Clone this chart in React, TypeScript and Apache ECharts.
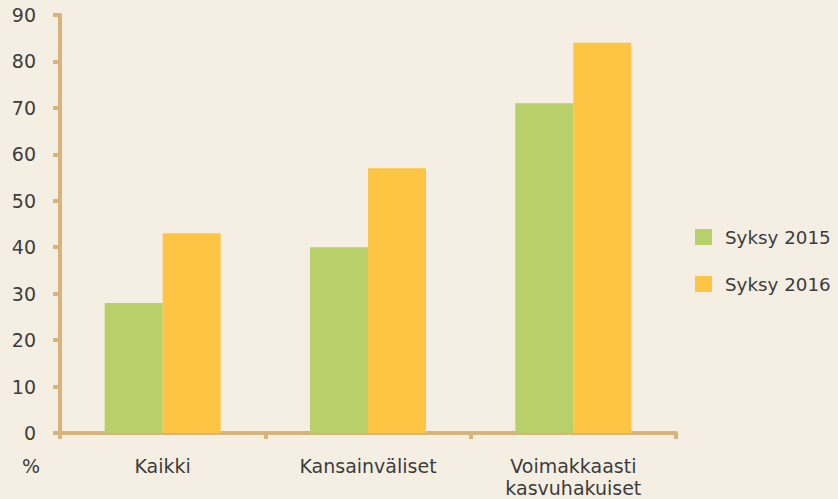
import React, { useEffect, useRef } from "react";
import * as echarts from "echarts";

const categories = ["Kaikki", "Kansainväliset", "Voimakkaasti\nkasvuhakuiset"];
const series2015 = [28, 40, 71];
const series2016 = [43, 57, 84];
const seriesNames = ["Syksy 2015", "Syksy 2016"];

const FONT = "'DejaVu Sans', sans-serif";
const AXIS = "#d8b47a";
const TEXT = "#3c3c3c";
const FW = "normal";

export default function App() {
  const ref = useRef<HTMLDivElement>(null);
  useEffect(() => {
    if (!ref.current) return;
    const chart = echarts.init(ref.current, null, { renderer: "svg" });
    chart.setOption({
      animation: false,
      backgroundColor: "#f5efe3",
      textStyle: { fontFamily: FONT },
      grid: { left: 60, right: 162, top: 15, bottom: 66, containLabel: false },
      legend: {
        orient: "vertical",
        left: 695,
        top: 228,
        padding: 0,
        itemWidth: 17,
        itemHeight: 16,
        itemGap: 29,
        icon: "rect",
        textStyle: {
          fontSize: 18.3,
          lineHeight: 16,
          color: TEXT,
          fontFamily: FONT,
          fontWeight: FW,
          padding: [0, 0, 0, 8],
        },
        data: seriesNames,
      },
      xAxis: {
        type: "category",
        data: categories,
        axisLine: { lineStyle: { color: AXIS, width: 4 } },
        axisTick: { show: true, length: 6, lineStyle: { color: AXIS, width: 4 } },
        axisLabel: {
          fontSize: 19,
          color: TEXT,
          margin: 22,
          lineHeight: 22,
          fontFamily: FONT,
          fontWeight: FW,
        },
      },
      yAxis: {
        type: "value",
        min: 0,
        max: 90,
        interval: 10,
        splitLine: { show: false },
        axisLine: { show: true, lineStyle: { color: AXIS, width: 4 } },
        axisTick: { show: true, length: 7, lineStyle: { color: AXIS, width: 4 } },
        axisLabel: { fontSize: 19, color: TEXT, margin: 24, fontFamily: FONT, fontWeight: FW },
      },
      graphic: [
        {
          type: "text",
          left: 22,
          top: 456,
          style: { text: "%", fontSize: 19, fill: TEXT, fontFamily: FONT, fontWeight: FW },
        },
      ],
      series: [
        {
          name: seriesNames[0],
          type: "bar",
          data: series2015,
          barWidth: 58,
          barGap: "0%",
          itemStyle: { color: "#b8d06a" },
        },
        {
          name: seriesNames[1],
          type: "bar",
          data: series2016,
          barWidth: 58,
          barGap: "0%",
          itemStyle: { color: "#fec443" },
        },
      ],
    });
    return () => chart.dispose();
  }, []);
  return (
    <div
      ref={ref}
      style={{ position: "fixed", left: 0, top: 0, width: 838, height: 499 }}
    />
  );
}
